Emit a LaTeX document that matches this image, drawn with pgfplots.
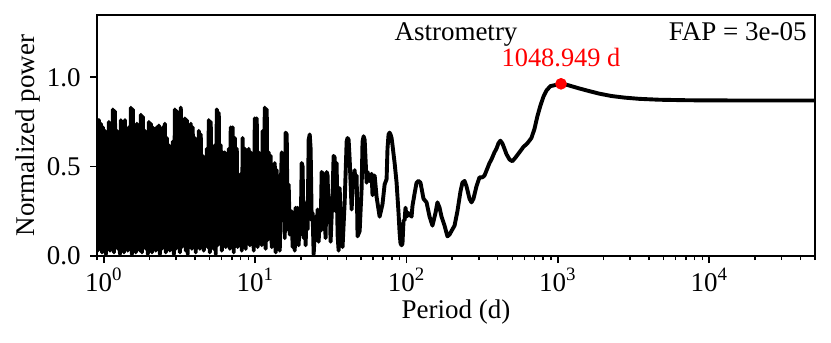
\documentclass[border=0pt]{standalone}
\usepackage{fontspec}
\setmainfont{Liberation Serif}
\usepackage{pgfplots}
\pgfplotsset{compat=1.18}
\begin{document}
\fontsize{13.5}{16}\selectfont
\begin{tikzpicture}
\begin{axis}[
  scale only axis,
  width=359pt, height=120.5pt,
  xmode=log,
  xmin=0.9, xmax=50000,
  ymin=0, ymax=1.348,
  xtick={1,10,100,1000,10000},
  xticklabels={\mbox{10\textsuperscript{0}},\mbox{10\textsuperscript{1}},\mbox{10\textsuperscript{2}},\mbox{10\textsuperscript{3}},\mbox{10\textsuperscript{4}}},
  minor xtick={0.9,2,3,4,5,6,7,8,9,20,30,40,50,60,70,80,90,200,300,400,500,600,700,800,900,2000,3000,4000,5000,6000,7000,8000,9000,20000,30000,40000,50000},
  ytick={0,0.5,1},
  yticklabels={\mbox{0.0},\mbox{0.5},\mbox{1.0}},
  ticklabel style={font=\rmfamily},
  xticklabel style={yshift=2pt},
  tick pos=left,
  tick align=outside,
  major tick length=3.5pt,
  minor tick length=2pt,
  every tick/.style={black, line width=0.8pt},
  axis line style={line width=0.9pt},
  xlabel={Period (d)},
  ylabel={Normalized power},
  xlabel shift=-5pt,
  ylabel shift=-6pt,
]
% periodogram, x given as log10(period)
\addplot[black, line width=1.95pt, line join=round] table[row sep=\\, x expr={10^(\thisrow{l})}, y=p] {
l p \\
-0.046 0.77 \\ -0.040 0.03 \\ -0.033 0.76 \\ -0.026 0.10 \\ -0.020 0.74 \\ -0.013 0.02 \\ -0.007 0.72 \\ 0.000 0.05 \\
0.007 0.70 \\ 0.013 0.01 \\ 0.020 0.66 \\ 0.026 0.08 \\ 0.033 0.75 \\ 0.040 0.03 \\ 0.046 0.73 \\ 0.053 0.12 \\
0.059 0.82 \\ 0.066 0.02 \\ 0.073 0.81 \\ 0.079 0.06 \\ 0.086 0.70 \\ 0.092 0.04 \\ 0.099 0.59 \\ 0.106 0.01 \\
0.112 0.76 \\ 0.119 0.07 \\ 0.125 0.74 \\ 0.132 0.02 \\ 0.139 0.76 \\ 0.145 0.09 \\ 0.152 0.66 \\ 0.158 0.03 \\
0.165 0.72 \\ 0.172 0.05 \\ 0.178 0.83 \\ 0.185 0.01 \\ 0.191 0.82 \\ 0.198 0.06 \\ 0.205 0.70 \\ 0.211 0.02 \\
0.218 0.74 \\ 0.224 0.10 \\ 0.231 0.72 \\ 0.238 0.03 \\ 0.244 0.79 \\ 0.251 0.02 \\ 0.257 0.78 \\ 0.264 0.07 \\
0.271 0.70 \\ 0.277 0.04 \\ 0.284 0.68 \\ 0.290 0.01 \\ 0.297 0.75 \\ 0.304 0.05 \\ 0.310 0.74 \\ 0.317 0.02 \\
0.323 0.72 \\ 0.330 0.08 \\ 0.337 0.70 \\ 0.343 0.03 \\ 0.350 0.72 \\ 0.356 0.06 \\ 0.363 0.73 \\ 0.370 0.01 \\
0.376 0.70 \\ 0.383 0.04 \\ 0.389 0.72 \\ 0.396 0.07 \\ 0.403 0.74 \\ 0.409 0.02 \\ 0.416 0.66 \\ 0.422 0.05 \\
0.429 0.62 \\ 0.436 0.03 \\ 0.442 0.50 \\ 0.449 0.08 \\ 0.455 0.64 \\ 0.462 0.01 \\ 0.469 0.82 \\ 0.475 0.04 \\
0.482 0.81 \\ 0.488 0.06 \\ 0.495 0.77 \\ 0.502 0.02 \\ 0.508 0.83 \\ 0.515 0.05 \\ 0.521 0.65 \\ 0.528 0.09 \\
0.535 0.77 \\ 0.541 0.03 \\ 0.548 0.76 \\ 0.554 0.01 \\ 0.561 0.65 \\ 0.568 0.06 \\ 0.574 0.74 \\ 0.581 0.04 \\
0.587 0.72 \\ 0.594 0.07 \\ 0.601 0.66 \\ 0.607 0.02 \\ 0.614 0.65 \\ 0.620 0.10 \\ 0.627 0.70 \\ 0.634 0.04 \\
0.640 0.68 \\ 0.647 0.08 \\ 0.653 0.56 \\ 0.660 0.03 \\ 0.667 0.55 \\ 0.673 0.12 \\ 0.680 0.60 \\ 0.686 0.05 \\
0.693 0.76 \\ 0.700 0.02 \\ 0.706 0.75 \\ 0.713 0.09 \\ 0.719 0.60 \\ 0.726 0.04 \\ 0.733 0.62 \\ 0.739 0.01 \\
0.746 0.82 \\ 0.752 0.06 \\ 0.759 0.80 \\ 0.766 0.08 \\ 0.772 0.62 \\ 0.779 0.03 \\ 0.785 0.58 \\ 0.792 0.10 \\
0.799 0.58 \\ 0.805 0.05 \\ 0.812 0.56 \\ 0.818 0.12 \\ 0.825 0.60 \\ 0.832 0.04 \\ 0.838 0.72 \\ 0.845 0.08 \\
0.851 0.72 \\ 0.858 0.02 \\ 0.865 0.66 \\ 0.871 0.10 \\ 0.878 0.60 \\ 0.884 0.05 \\ 0.891 0.45 \\ 0.898 0.07 \\
0.904 0.46 \\ 0.911 0.03 \\ 0.917 0.66 \\ 0.924 0.09 \\ 0.931 0.60 \\ 0.937 0.04 \\ 0.944 0.53 \\ 0.950 0.12 \\
0.957 0.60 \\ 0.964 0.06 \\ 0.970 0.58 \\ 0.977 0.10 \\ 0.983 0.53 \\ 0.990 0.03 \\ 0.997 0.77 \\ 1.003 0.08 \\
1.010 0.77 \\ 1.016 0.05 \\ 1.023 0.58 \\ 1.030 0.11 \\ 1.036 0.52 \\ 1.043 0.06 \\ 1.049 0.70 \\ 1.056 0.14 \\
1.063 0.83 \\ 1.069 0.04 \\ 1.076 0.82 \\ 1.082 0.09 \\ 1.089 0.58 \\ 1.096 0.15 \\ 1.102 0.56 \\ 1.109 0.05 \\
1.115 0.45 \\ 1.122 0.10 \\ 1.129 0.52 \\ 1.135 0.02 \\ 1.142 0.48 \\ 1.148 0.16 \\ 1.155 0.40 \\ 1.162 0.03 \\
1.168 0.35 \\ 1.175 0.58 \\ 1.181 0.20 \\ 1.188 0.55 \\ 1.195 0.10 \\ 1.201 0.69 \\ 1.208 0.68 \\ 1.214 0.15 \\
1.221 0.40 \\ 1.228 0.12 \\ 1.234 0.22 \\ 1.241 0.25 \\ 1.247 0.05 \\ 1.254 0.20 \\ 1.261 0.03 \\ 1.267 0.27 \\
1.274 0.10 \\ 1.280 0.27 \\ 1.287 0.06 \\ 1.294 0.25 \\ 1.300 0.12 \\ 1.307 0.52 \\ 1.313 0.50 \\ 1.320 0.10 \\
1.327 0.22 \\ 1.333 0.06 \\ 1.340 0.30 \\ 1.346 0.15 \\ 1.353 0.65 \\ 1.360 0.68 \\ 1.366 0.60 \\ 1.373 0.20 \\
1.379 0.24 \\ 1.386 0.01 \\ 1.399 0.22 \\ 1.406 0.10 \\ 1.412 0.26 \\ 1.419 0.08 \\ 1.426 0.22 \\ 1.432 0.14 \\
1.439 0.47 \\ 1.445 0.46 \\ 1.452 0.15 \\ 1.459 0.22 \\ 1.465 0.10 \\ 1.472 0.47 \\ 1.478 0.45 \\ 1.485 0.22 \\
1.492 0.30 \\ 1.498 0.08 \\ 1.511 0.35 \\ 1.518 0.56 \\ 1.525 0.55 \\ 1.531 0.25 \\ 1.538 0.52 \\ 1.544 0.12 \\
1.551 0.03 \\ 1.558 0.38 \\ 1.564 0.20 \\ 1.577 0.05 \\ 1.591 0.30 \\ 1.604 0.64 \\ 1.610 0.66 \\ 1.617 0.65 \\
1.624 0.54 \\ 1.637 0.26 \\ 1.643 0.38 \\ 1.657 0.48 \\ 1.663 0.38 \\ 1.670 0.45 \\ 1.676 0.11 \\ 1.690 0.14 \\
1.703 0.38 \\ 1.709 0.64 \\ 1.716 0.67 \\ 1.723 0.65 \\ 1.736 0.41 \\ 1.742 0.47 \\ 1.756 0.42 \\ 1.769 0.46 \\
1.775 0.34 \\ 1.789 0.45 \\ 1.802 0.33 \\ 1.822 0.22 \\ 1.841 0.29 \\ 1.855 0.40 \\ 1.868 0.43 \\ 1.874 0.60 \\
1.881 0.68 \\ 1.888 0.69 \\ 1.894 0.68 \\ 1.901 0.66 \\ 1.907 0.62 \\ 1.921 0.52 \\ 1.934 0.41 \\ 1.947 0.24 \\
1.954 0.13 \\ 1.960 0.07 \\ 1.967 0.06 \\ 1.973 0.07 \\ 1.980 0.20 \\ 1.987 0.20 \\ 1.993 0.27 \\ 2.000 0.22 \\
2.013 0.24 \\ 2.033 0.22 \\ 2.039 0.28 \\ 2.053 0.35 \\ 2.066 0.41 \\ 2.079 0.42 \\ 2.092 0.41 \\ 2.112 0.32 \\
2.132 0.30 \\ 2.152 0.22 \\ 2.171 0.17 \\ 2.191 0.24 \\ 2.204 0.30 \\ 2.218 0.27 \\ 2.231 0.22 \\ 2.251 0.17 \\
2.270 0.11 \\ 2.284 0.12 \\ 2.297 0.14 \\ 2.317 0.17 \\ 2.336 0.25 \\ 2.356 0.36 \\ 2.369 0.41 \\ 2.383 0.42 \\
2.396 0.39 \\ 2.416 0.32 \\ 2.429 0.30 \\ 2.442 0.32 \\ 2.462 0.39 \\ 2.482 0.44 \\ 2.501 0.44 \\ 2.515 0.45 \\
2.534 0.49 \\ 2.548 0.52 \\ 2.561 0.54 \\ 2.581 0.58 \\ 2.594 0.60 \\ 2.607 0.63 \\ 2.620 0.645 \\ 2.633 0.63 \\
2.647 0.60 \\ 2.660 0.57 \\ 2.680 0.54 \\ 2.699 0.53 \\ 2.719 0.55 \\ 2.746 0.58 \\ 2.772 0.61 \\ 2.798 0.63 \\
2.825 0.66 \\ 2.845 0.71 \\ 2.864 0.78 \\ 2.884 0.84 \\ 2.904 0.89 \\ 2.924 0.925 \\ 2.950 0.95 \\ 2.977 0.955 \\
2.996 0.960 \\ 3.021 0.963 \\ 3.049 0.960 \\ 3.089 0.950 \\ 3.142 0.937 \\ 3.208 0.922 \\ 3.274 0.908 \\ 3.353 0.895 \\
3.439 0.886 \\ 3.538 0.879 \\ 3.670 0.874 \\ 3.868 0.871 \\ 4.132 0.870 \\ 4.462 0.870 \\ 4.699 0.870 \\
};
\addplot[only marks, mark=*, mark size=2.7pt, red] coordinates {(1048.949,0.963)};
\node[red, anchor=base, inner sep=0pt, yshift=8.7pt, font=\fontsize{13.2}{15}\selectfont] at (axis cs:1048.949,0.963) {1048.949 d};
\node[anchor=base, inner sep=0pt, yshift=-13pt] at (rel axis cs:0.5,1) {Astrometry};
\node[anchor=base east, inner sep=0pt, xshift=-4pt, yshift=-13pt] at (rel axis cs:1,1) {FAP = 3e-05};
\end{axis}
\path ([shift={(-48.5pt,-43.5pt)}]current axis.south west) rectangle ([shift={(8pt,7.5pt)}]current axis.north east);
\end{tikzpicture}
\end{document}
